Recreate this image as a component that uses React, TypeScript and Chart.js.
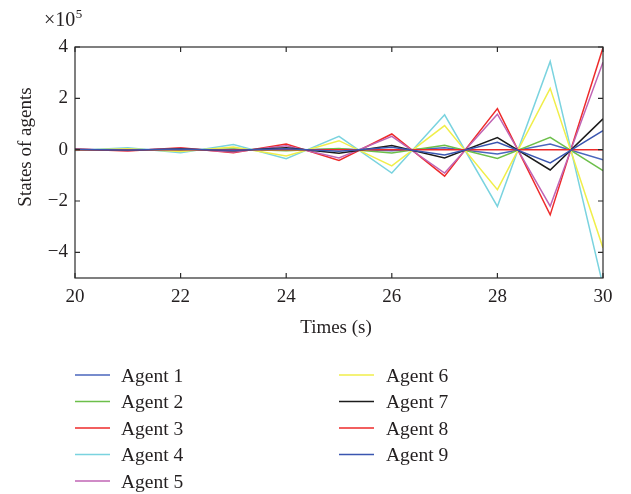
import React, { useEffect, useRef } from 'react';
import { Chart, registerables } from 'chart.js';

Chart.register(...registerables);

// Time samples (s)
const times = [20, 21, 22, 23, 24, 25, 26, 27, 28, 29, 30];

// States of agents (units of 1e5)
const agent1 = [-0.003, 0.005, -0.008, 0.01, -0.02, 0.03, -0.04, 0.07, -0.17, 0.22, -0.39];
const agent2 = [-0.01, 0.01, -0.02, 0.03, -0.04, 0.05, -0.13, 0.17, -0.34, 0.48, -0.82];
const agent3 = [0.03, -0.05, 0.07, -0.12, 0.22, -0.42, 0.61, -1.03, 1.6, -2.54, 3.97];
const agent4 = [-0.03, 0.07, -0.12, 0.2, -0.35, 0.52, -0.91, 1.36, -2.21, 3.44, -5.3];
const agent5 = [0.02, -0.03, 0.05, -0.09, 0.15, -0.32, 0.52, -0.91, 1.38, -2.2, 3.41];
const agent6 = [-0.02, 0.04, -0.07, 0.1, -0.25, 0.35, -0.63, 0.94, -1.56, 2.39, -3.83];
const agent7 = [0.01, -0.02, 0.03, -0.04, 0.07, -0.14, 0.16, -0.32, 0.47, -0.79, 1.2];
const agent8 = [0, 0, 0, 0, 0, 0, 0, 0, 0, 0, 0];
const agent9 = [0.005, -0.01, 0.015, -0.02, 0.04, -0.06, 0.09, -0.21, 0.29, -0.52, 0.74];

const agentSeries = [agent1, agent2, agent3, agent4, agent5, agent6, agent7, agent8, agent9];
const agentLabels = ['Agent 1', 'Agent 2', 'Agent 3', 'Agent 4', 'Agent 5', 'Agent 6', 'Agent 7', 'Agent 8', 'Agent 9'];
const agentColors = ['#4a66bd', '#6cbf4a', '#ee2a2a', '#7ad3df', '#c064b4', '#f0ee4a', '#1c1c1c', '#ee2a2a', '#3a56b0'];

const xTickValues = [20, 22, 24, 26, 28, 30];
const yTickValues = [-4, -2, 0, 2, 4];

const xTitle = 'Times (s)';
const yTitle = 'States of agents';

const FONT = "'Liberation Serif', 'Times New Roman', serif";
const TEXT = '#231f20';

const framePlugin = {
  id: 'matlabFrame',
  afterDraw(chart: any) {
    const ctx = chart.ctx;
    const { left, right, top, bottom } = chart.chartArea;
    const xs = chart.scales.x;
    const ys = chart.scales.y;
    ctx.save();
    ctx.strokeStyle = '#2b2b2b';
    ctx.lineWidth = 1.2;
    ctx.strokeRect(left, top, right - left, bottom - top);
    ctx.beginPath();
    for (const v of xTickValues) {
      const x = xs.getPixelForValue(v);
      ctx.moveTo(x, bottom);
      ctx.lineTo(x, bottom - 5);
      ctx.moveTo(x, top);
      ctx.lineTo(x, top + 5);
    }
    for (const v of yTickValues) {
      const y = ys.getPixelForValue(v);
      ctx.moveTo(left, y);
      ctx.lineTo(left + 5, y);
      ctx.moveTo(right, y);
      ctx.lineTo(right - 5, y);
    }
    ctx.stroke();

    // exponent label
    ctx.fillStyle = TEXT;
    ctx.textAlign = 'left';
    ctx.textBaseline = 'alphabetic';
    ctx.font = `20px ${FONT}`;
    ctx.fillText('\u00d710', 44, 25.5);
    const w = ctx.measureText('\u00d710').width;
    ctx.font = `13px ${FONT}`;
    ctx.fillText('5', 44 + w + 0.5, 17.5);

    // axis titles
    ctx.font = `19px ${FONT}`;
    ctx.textAlign = 'center';
    ctx.fillText(xTitle, (left + right) / 2 - 3, 333);
    ctx.save();
    ctx.translate(31, 147);
    ctx.rotate(-Math.PI / 2);
    ctx.fillText(yTitle, 0, 0);
    ctx.restore();

    // legend (two columns)
    ctx.font = `19.5px ${FONT}`;
    ctx.textAlign = 'left';
    const rowY = [375, 401.5, 428, 454.5, 481];
    chart.data.datasets.forEach((ds: any, i: number) => {
      const col = i < 5 ? 0 : 1;
      const row = i < 5 ? i : i - 5;
      const lx = col === 0 ? 75 : 339;
      const tx = col === 0 ? 121 : 386;
      const y = rowY[row];
      ctx.strokeStyle = ds.borderColor;
      ctx.lineWidth = 1.6;
      ctx.beginPath();
      ctx.moveTo(lx, y);
      ctx.lineTo(lx + 35, y);
      ctx.stroke();
      ctx.fillStyle = TEXT;
      ctx.fillText(ds.label, tx, y + 6.5);
    });
    ctx.restore();
  },
};

export default function App() {
  const canvasRef = useRef<HTMLCanvasElement | null>(null);

  useEffect(() => {
    const canvas = canvasRef.current;
    if (!canvas) return;
    const datasets = agentSeries.map((series, i) => ({
      label: agentLabels[i],
      data: series.map((v, j) => ({ x: times[j], y: v })),
      borderColor: agentColors[i],
      backgroundColor: agentColors[i],
      borderWidth: 1.5,
      pointRadius: 0,
      tension: 0,
      fill: false,
      order: agentSeries.length - i,
    }));
    const chart = new Chart(canvas, {
      type: 'line',
      data: { datasets },
      plugins: [framePlugin],
      options: {
        animation: false,
        responsive: false,
        devicePixelRatio: 1,
        layout: { padding: { left: 0, right: 28, top: 47, bottom: 0 } },
        plugins: {
          legend: { display: false },
          tooltip: { enabled: false },
        },
        scales: {
          x: {
            type: 'linear',
            min: 20,
            max: 30,
            grid: { display: false, drawTicks: false },
            border: { display: false },
            ticks: {
              padding: 8,
              color: TEXT,
              font: { family: FONT, size: 19 },
            },
            afterBuildTicks: (scale: any) => {
              scale.ticks = xTickValues.map((v) => ({ value: v }));
            },
            afterFit: (scale: any) => {
              scale.height = 216;
            },
          },
          y: {
            type: 'linear',
            min: -5,
            max: 4,
            grid: { display: false, drawTicks: false },
            border: { display: false },
            ticks: {
              padding: 7,
              color: TEXT,
              font: { family: FONT, size: 19 },
              callback: (v: any) => (Number(v) < 0 ? '\u2212' + Math.abs(Number(v)) : String(v)),
            },
            afterBuildTicks: (scale: any) => {
              scale.ticks = yTickValues.map((v) => ({ value: v }));
            },
            afterFit: (scale: any) => {
              scale.width = 75;
            },
          },
        },
      },
    });
    return () => chart.destroy();
  }, []);

  return (
    <div style={{ position: 'fixed', left: 0, top: 0, width: 631, height: 494, background: '#fff' }}>
      <canvas ref={canvasRef} width={631} height={494} style={{ width: 631, height: 494, display: 'block' }} />
    </div>
  );
}
